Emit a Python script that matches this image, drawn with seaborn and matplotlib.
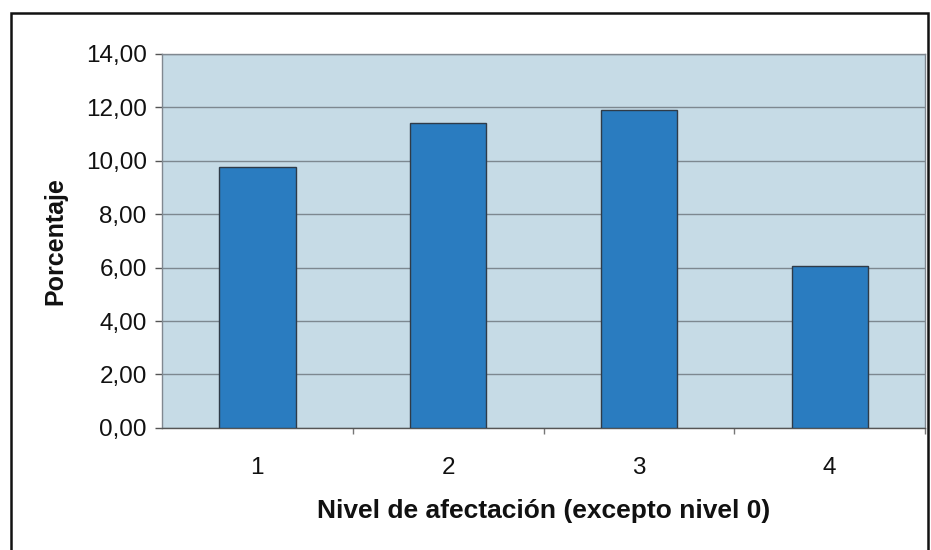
import matplotlib
matplotlib.use("Agg")
import matplotlib.pyplot as plt
from matplotlib.ticker import FuncFormatter, FixedLocator
from matplotlib.patches import Rectangle
import seaborn as sns
import pandas as pd

niveles = ["1", "2", "3", "4"]
porcentajes = [9.75, 11.40, 11.90, 6.05]
yticks = [0, 2, 4, 6, 8, 10, 12, 14]

df = pd.DataFrame({"nivel": niveles, "porcentaje": porcentajes})

sns.set_theme(style="white")
plt.rcParams["font.family"] = ["Liberation Sans", "DejaVu Sans"]

fig = plt.figure(figsize=(9.31, 5.5), dpi=100)
ax = fig.add_axes([0.174, 0.222, 0.8196, 0.680])
ax.set_facecolor("#c6dbe6")

sns.barplot(data=df, x="nivel", y="porcentaje", ax=ax, color="#2a7cc0",
            saturation=1, width=0.4, edgecolor="#2f3b48", linewidth=1.0,
            zorder=3)

ax.set_xlim(-0.5, 3.5)
ax.set_ylim(0, 14)
ax.yaxis.set_major_locator(FixedLocator(yticks))
ax.yaxis.set_major_formatter(FuncFormatter(lambda v, p: f"{v:.2f}".replace(".", ",")))
ax.grid(axis="y", color="#7d8890", linewidth=1.0, zorder=1)
ax.set_axisbelow(True)

ax.tick_params(axis="y", which="major", left=True, length=5, width=1,
               color="#555555", labelsize=17.5, pad=6, labelcolor="#111111")
ax.tick_params(axis="x", which="major", length=0, labelsize=17.5, pad=21,
               labelcolor="#111111")
ax.xaxis.set_minor_locator(FixedLocator([0.5, 1.5, 2.5, 3.5]))
ax.tick_params(axis="x", which="minor", bottom=True, length=4, width=1,
               color="#777777")

for side, sp in ax.spines.items():
    sp.set_color("#808890")
    sp.set_linewidth(1.0)
    sp.set_linestyle((0, (3, 1)))
ax.spines["bottom"].set_linestyle("-")
ax.spines["bottom"].set_color("#555555")

ax.set_ylabel("Porcentaje", fontsize=18, fontweight="bold", labelpad=13,
              color="#111111")
ax.set_xlabel("Nivel de afectación (excepto nivel 0)", fontsize=19,
              fontweight="bold", labelpad=14, color="#111111")

# outer chart frame
fig.add_artist(Rectangle((0.0115, -0.05), 0.9855, 1.026,
                         transform=fig.transFigure, fill=False,
                         edgecolor="#111111", linewidth=1.8))

fig.savefig("out.png", dpi=100, facecolor="white")
